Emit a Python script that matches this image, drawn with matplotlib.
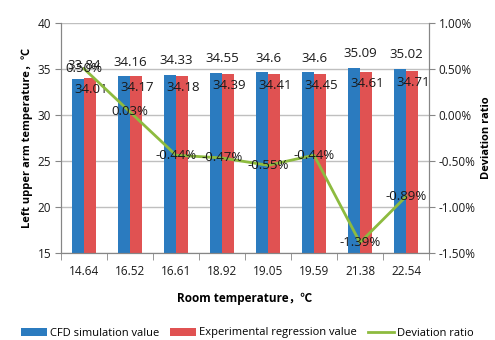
import matplotlib
matplotlib.use("Agg")
import matplotlib.pyplot as plt
import numpy as np
from matplotlib.ticker import FuncFormatter

plt.rcParams['font.family'] = ['Open Sans', 'Noto Sans CJK SC', 'DejaVu Sans']

room_temp = ["14.64", "16.52", "16.61", "18.92", "19.05", "19.59", "21.38", "22.54"]
cfd = [33.84, 34.16, 34.33, 34.55, 34.6, 34.6, 35.09, 35.02]
cfd_labels = ["33.84", "34.16", "34.33", "34.55", "34.6", "34.6", "35.09", "35.02"]
experimental = [34.01, 34.17, 34.18, 34.39, 34.41, 34.45, 34.61, 34.71]
deviation = [0.50, 0.03, -0.44, -0.47, -0.55, -0.44, -1.39, -0.89]

blue = "#2B7BBF"
red = "#E05252"
green = "#8DBB3F"
grid_c = "#BFBFBF"
txt_c = "#1a1a1a"

fig = plt.figure(figsize=(4.95, 3.4), dpi=100)
ax = fig.add_axes([61/495, 1 - 252.7/340, (429-61)/495, (252.7-22.7)/340])
ax2 = ax.twinx()

x = np.arange(len(room_temp))
w = 0.27
b1 = ax.bar(x - w/2, cfd, w, color=blue, label="CFD simulation value", zorder=2)
b2 = ax.bar(x + w/2, experimental, w, color=red, label="Experimental regression value", zorder=2)

ax.set_ylim(15, 40)
ax.set_yticks([15, 20, 25, 30, 35, 40])
ax.set_xlim(-0.5, len(room_temp) - 0.5)
ax.yaxis.grid(True, color=grid_c, lw=1, zorder=0)
ax.set_axisbelow(True)
ax.set_xticks(x)
ax.set_xticklabels(room_temp, fontsize=8.5, color=txt_c)
ax.tick_params(axis='x', length=0, pad=9)
ax.set_xticks(np.arange(-0.5, len(room_temp)), minor=True)
ax.tick_params(axis='x', which='minor', length=5, color="#868686")
ax.tick_params(axis='y', labelsize=8.5, length=4, color="#868686", pad=3, labelcolor=txt_c)

ax.spines["top"].set_visible(False)
ax2.spines["top"].set_visible(False)
for a in (ax, ax2):
    for s in ["left", "right", "bottom"]:
        a.spines[s].set_color("#868686")

for i in range(len(x)):
    ax.text(x[i], cfd[i] + 0.85, cfd_labels[i], ha='center', va='bottom', fontsize=9.5, color=txt_c, zorder=5)
    ax.text(x[i] + w/2 + 0.02, experimental[i] - 0.55, f"{experimental[i]:.2f}", ha='center', va='top',
            fontsize=9.5, color=txt_c, zorder=5)

ax2.plot(x, deviation, color=green, lw=2, label="Deviation ratio", zorder=3)
ax2.set_ylim(-1.5, 1.0)
ax2.set_yticks([-1.5, -1.0, -0.5, 0.0, 0.5, 1.0])
ax2.yaxis.set_major_formatter(FuncFormatter(lambda v, p: f"{v:.2f}%"))
ax2.tick_params(axis='y', labelsize=8.5, length=4, color="#868686", pad=3, labelcolor=txt_c)
for i in range(len(x)):
    ax2.text(x[i], deviation[i], f"{deviation[i]:.2f}%", ha='center', va='center', fontsize=9.5,
             color=txt_c, zorder=6)

ax.set_ylabel("Left upper arm temperature，℃", fontsize=8, fontweight='bold', labelpad=3)
ax2.set_ylabel("Deviation ratio", fontsize=8, fontweight='bold', labelpad=4)
ax.set_xlabel("Room temperature，℃", fontsize=8.5, fontweight='bold', labelpad=10)

handles = [b1, b2, ax2.get_lines()[0]]
labels = [h.get_label() for h in handles]
fig.legend(handles, labels, loc='lower center', bbox_to_anchor=(0.5, -0.025), ncol=3, frameon=False,
           fontsize=8, handlelength=2.3, handleheight=0.7, columnspacing=1.0, handletextpad=0.3)

fig.savefig("out.png", dpi=100)
